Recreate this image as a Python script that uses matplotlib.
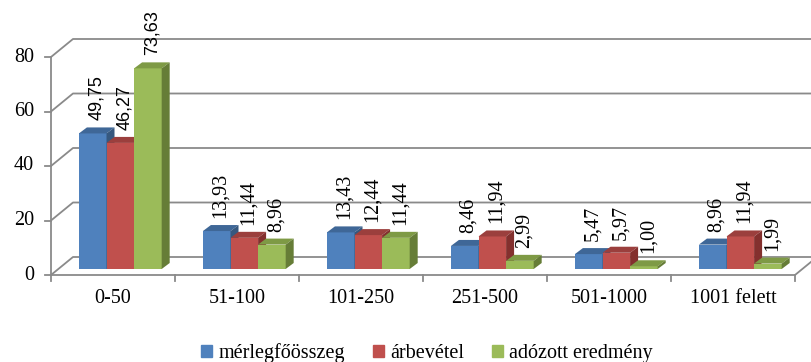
import numpy as np
import matplotlib.pyplot as plt
from matplotlib.patches import Polygon, Patch

categories = ['0-50', '51-100', '101-250', '251-500', '501-1000', '1001 felett']
series_names = ['mérlegfőösszeg', 'árbevétel', 'adózott eredmény']
merlegfoosszeg = [49.75, 13.93, 13.43, 8.46, 5.47, 8.96]
arbevetel = [46.27, 11.44, 12.44, 11.94, 5.97, 11.94]
adozott_eredmeny = [73.63, 8.96, 11.44, 2.99, 1.00, 1.99]
y_ticks = [0, 20, 40, 60, 80]

series = [merlegfoosszeg, arbevetel, adozott_eredmeny]
front_cols = ['#4f81bd', '#c0504d', '#9bbb59']
top_cols = ['#3f6797', '#9b3f3d', '#7e9a45']
side_cols = ['#36587f', '#83302e', '#667d37']

W, H = 811, 362
fig = plt.figure(figsize=(W / 100, H / 100), dpi=100)
# front plane of the plot box, in pixels
x0, x1, y0, y1 = 51, 795, 275, 57
ax = fig.add_axes([x0 / W, (H - y0) / H, (x1 - x0) / W, (y0 - y1) / H])
ax.set_xlim(0, len(categories))
ax.set_ylim(0, 80)
ax.axis('off')

px_x = (x1 - x0) / len(categories)   # pixels per category
px_y = (y0 - y1) / 80.0              # pixels per unit
DX, DY = 22 / px_x, 18 / px_y        # depth of the box
BX, BY = 7.3 / px_x, 6 / px_y        # bars sit a third of the way in
BDX, BDY = 8 / px_x, 6 / px_y        # bar depth

grid_c = '#8a8a8a'
n = len(categories)
# back wall + left wall gridlines
for v in y_ticks:
    ax.plot([0, DX, n + DX], [v, v + DY, v + DY], color=grid_c, lw=1.3,
            clip_on=False, zorder=1)
# front axes
ax.plot([0, 0], [0, 80], color=grid_c, lw=1.3, clip_on=False, zorder=1)
ax.plot([0, n, n + DX], [0, 0, DY], color=grid_c, lw=1.3, clip_on=False, zorder=1)
for v in y_ticks:
    ax.plot([-6 / px_x, 0], [v, v], color=grid_c, lw=1.3, clip_on=False)
    ax.text(-17 / px_x, v, str(v), ha='right', va='center', fontsize=14.5,
            family='Liberation Serif')
for i in range(n + 1):
    ax.plot([i, i], [0, -6 / px_y], color=grid_c, lw=1.3, clip_on=False)
for i, c in enumerate(categories):
    ax.text(i + 0.5, -14 / px_y, c, ha='center', va='top', fontsize=14.5,
            family='Liberation Serif')

bw = 0.2225
for i in range(n):
    for k, vals in enumerate(series):
        v = vals[i]
        xl = i + 0.5 - 1.5 * bw + k * bw + BX
        ax.bar(xl, v, width=bw, bottom=BY, align='edge', color=front_cols[k],
               linewidth=0, zorder=3)
        top = [(xl, v + BY), (xl + bw, v + BY), (xl + bw + BDX, v + BY + BDY),
               (xl + BDX, v + BY + BDY)]
        side = [(xl + bw, BY), (xl + bw + BDX, BY + BDY),
                (xl + bw + BDX, v + BY + BDY), (xl + bw, v + BY)]
        ax.add_patch(Polygon(top, closed=True, fc=top_cols[k], lw=0, zorder=3))
        ax.add_patch(Polygon(side, closed=True, fc=side_cols[k], lw=0, zorder=3))
        lbl = f'{v:.2f}'.replace('.', ',')
        if i == 0:
            fam, fs = 'Liberation Sans', 13
        else:
            fam, fs = 'Liberation Serif', 14.5
        ax.text(xl + bw / 2 + BDX / 2, v + BY + BDY + 7 / px_y, lbl, rotation=90,
                ha='center', va='bottom', fontsize=fs, family=fam, zorder=5,
                clip_on=False)

handles = [Patch(color=c) for c in front_cols]
fig.legend(handles, series_names, loc='center', bbox_to_anchor=(427 / W, 1 - 353 / H),
           ncol=3, frameon=False, handlelength=0.55, handleheight=0.55,
           handletextpad=0.3, columnspacing=1.4,
           prop={'family': 'Liberation Serif', 'size': 14.5})

fig.savefig('out.png', dpi=100)
